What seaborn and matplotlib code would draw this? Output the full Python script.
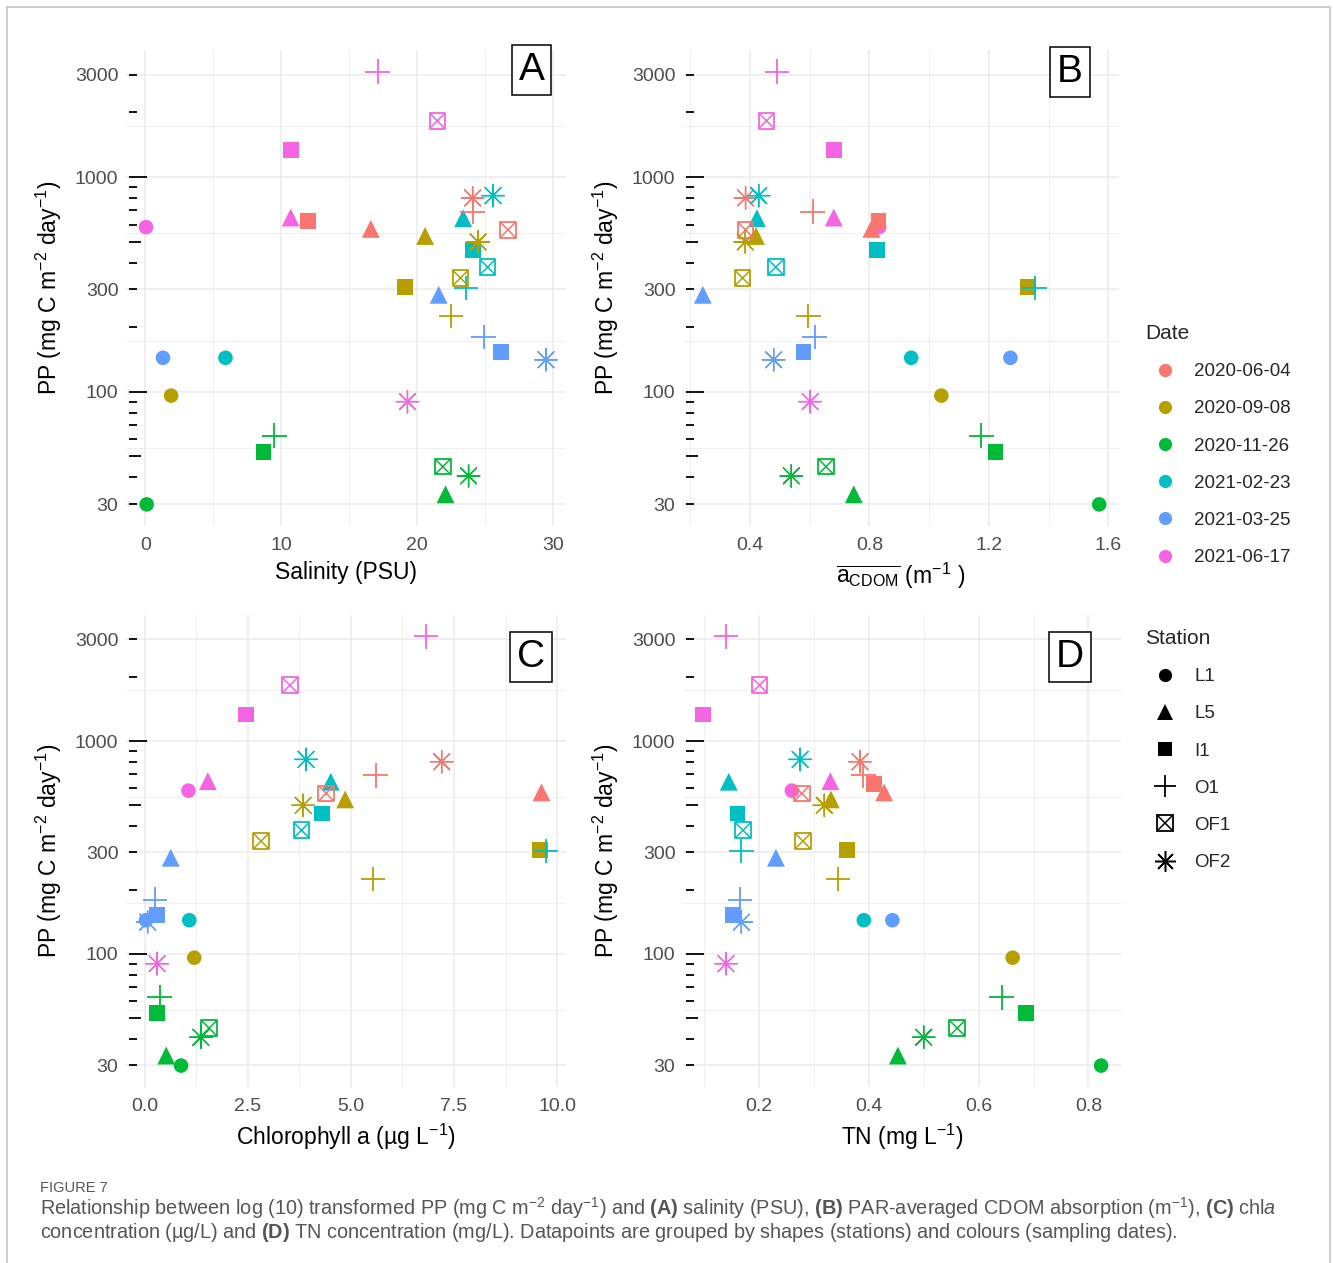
import numpy as np
import pandas as pd
import matplotlib
matplotlib.use("Agg")
import matplotlib.pyplot as plt
import seaborn as sns
from matplotlib.lines import Line2D
from matplotlib.patches import Rectangle
from matplotlib.legend_handler import HandlerTuple

# ---------------- data ----------------
dates = ["2020-06-04", "2020-09-08", "2020-11-26", "2021-02-23", "2021-03-25", "2021-06-17"]
stations = ["L1", "L5", "I1", "O1", "OF1", "OF2"]
palette = ["#F8766D", "#B79F00", "#00BA38", "#00BFC4", "#619CFF", "#F564E3"]

date_col = (["2020-06-04"] * 5 + ["2020-09-08"] * 6 + ["2020-11-26"] * 6 +
            ["2021-02-23"] * 6 + ["2021-03-25"] * 5 + ["2021-06-17"] * 6)
station_col = (["L5", "I1", "O1", "OF1", "OF2"] +
               ["L1", "L5", "I1", "O1", "OF1", "OF2"] +
               ["L1", "L5", "I1", "O1", "OF1", "OF2"] +
               ["L1", "L5", "I1", "O1", "OF1", "OF2"] +
               ["L1", "L5", "I1", "O1", "OF2"] +
               ["L1", "L5", "I1", "O1", "OF1", "OF2"])
pp = [574, 627, 690, 568, 800,
      96, 532, 308, 225, 339, 499,
      29.9, 33.3, 52.6, 62.5, 44.8, 40.6,
      144, 644, 457, 305, 381, 820,
      144, 283, 153, 180, 141,
      585, 648, 1333, 3100, 1830, 90]
salinity = [16.6, 12.0, 24.1, 26.7, 24.1,
            1.9, 20.6, 19.1, 22.5, 23.2, 24.5,
            0.1, 22.1, 8.7, 9.5, 21.9, 23.8,
            5.9, 23.4, 24.1, 23.6, 25.2, 25.6,
            1.3, 21.6, 26.2, 24.9, 29.5,
            0.05, 10.7, 10.7, 17.1, 21.5, 19.3]
acdom = [0.807, 0.831, 0.610, 0.386, 0.386,
         1.041, 0.421, 1.332, 0.596, 0.376, 0.385,
         1.569, 0.748, 1.222, 1.175, 0.655, 0.539,
         0.940, 0.424, 0.827, 1.353, 0.487, 0.430,
         1.272, 0.243, 0.580, 0.617, 0.480,
         0.833, 0.681, 0.681, 0.491, 0.456, 0.602]
chla = [9.62, np.nan, 5.60, 4.40, 7.20,
        1.20, 4.86, 9.59, 5.53, 2.82, 3.84,
        0.88, 0.52, 0.30, 0.36, 1.56, 1.36,
        1.08, 4.51, 4.30, 9.73, 3.80, 3.91,
        0.03, 0.63, 0.30, 0.25, 0.07,
        1.06, 1.53, 2.46, 6.82, 3.52, 0.30]
tn = [0.428, 0.410, 0.390, 0.278, 0.384,
      0.662, 0.331, 0.361, 0.344, 0.280, 0.319,
      0.823, 0.453, 0.686, 0.642, 0.561, 0.500,
      0.391, 0.145, 0.161, 0.168, 0.171, 0.275,
      0.443, 0.231, 0.153, 0.166, 0.168,
      0.260, 0.330, 0.098, 0.140, 0.201, 0.140]

y_breaks = [30, 100, 300, 1000, 3000]
y_labels = ["30", "100", "300", "1000", "3000"]

df = pd.DataFrame({"Date": date_col, "Station": station_col, "PP": pp,
                   "Salinity": salinity, "aCDOM": acdom, "Chla": chla, "TN": tn})

# ---------------- style ----------------
sns.set_theme(style="white")
plt.rcParams["font.family"] = ["Liberation Sans", "DejaVu Sans"]
plt.rcParams["mathtext.fontset"] = "custom"
plt.rcParams["mathtext.rm"] = "Liberation Sans"
plt.rcParams["mathtext.it"] = "Liberation Sans:italic"
plt.rcParams["mathtext.bf"] = "Liberation Sans:bold"
plt.rcParams["mathtext.sf"] = "Liberation Sans"

W, H = 1333, 1263
fig = plt.figure(figsize=(W / 100, H / 100), dpi=100)
fig.patch.set_facecolor("white")


def rect(l, t, r, b):
    return [l / W, 1 - b / H, (r - l) / W, (b - t) / H]


axA = fig.add_axes(rect(126, 50, 566, 526))
axB = fig.add_axes(rect(683, 50, 1119, 526))
axC = fig.add_axes(rect(126, 615, 566, 1087))
axD = fig.add_axes(rect(683, 615, 1121, 1087))

marker_specs = {
    "L1": [dict(marker="o", s=110, hollow=False)],
    "L5": [dict(marker="^", s=165, hollow=False)],
    "I1": [dict(marker="s", s=130, hollow=False)],
    "O1": [dict(marker="+", s=310, linewidth=1.3)],
    "OF1": [dict(marker="s", s=125, linewidth=1.3, hollow=True),
            dict(marker="x", s=125, linewidth=1.1)],
    "OF2": [dict(marker=(8, 2, 0), s=260, linewidth=1.0)],
}

GRID = "#EBEBEB"
TICKC = "#4D4D4D"


def padded(vals, log=False):
    v = np.asarray(vals, dtype=float)
    v = v[~np.isnan(v)]
    if log:
        v = np.log10(v)
    lo, hi = v.min(), v.max()
    pad = 0.05 * (hi - lo)
    lo, hi = lo - pad, hi + pad
    if log:
        return 10 ** lo, 10 ** hi
    return lo, hi


def draw_panel(ax, xcol, xlabel, xticks, xticklabels, letter, letter_xy):
    for st in stations:
        sub = df[df["Station"] == st].dropna(subset=[xcol])
        for spec in marker_specs[st]:
            kw = dict(spec)
            hollow = kw.pop("hollow", None)
            if hollow is False:
                kw["linewidth"] = 0
                kw["edgecolor"] = "none"
            if hollow:
                kw["edgecolor"] = "none"
            sns.scatterplot(data=sub, x=xcol, y="PP", hue="Date", hue_order=dates,
                            palette=palette, legend=False, ax=ax, zorder=3, **kw)
            if hollow:
                coll = ax.collections[-1]
                fc = coll.get_facecolors()
                coll.set_edgecolors(fc)
                coll.set_facecolors("none")
                coll.set_linewidths(spec["linewidth"])

    ax.set_yscale("log")
    ylo, yhi = padded(df["PP"], log=True)
    xlo, xhi = padded(df[xcol])
    ax.set_ylim(ylo, yhi)
    ax.set_xlim(xlo, xhi)
    ax.set_autoscale_on(False)

    # major / minor breaks (ggplot style)
    ax.set_yticks(y_breaks)
    ax.set_yticklabels(y_labels)
    lb = np.log10(y_breaks)
    ax.set_yticks(10 ** ((lb[:-1] + lb[1:]) / 2), minor=True)
    ax.set_xticks(xticks)
    ax.set_xticklabels(xticklabels)
    xt = np.asarray(xticks, dtype=float)
    step = xt[1] - xt[0]
    xm = np.concatenate([[xt[0] - step / 2], (xt[:-1] + xt[1:]) / 2, [xt[-1] + step / 2]])
    xm = xm[(xm > xlo) & (xm < xhi)]
    ax.set_xticks(xm, minor=True)
    ax.yaxis.set_minor_formatter(matplotlib.ticker.NullFormatter())
    ax.xaxis.set_minor_formatter(matplotlib.ticker.NullFormatter())

    ax.grid(True, which="major", color=GRID, linewidth=1.1, zorder=0)
    ax.grid(True, which="minor", color=GRID, linewidth=0.55, zorder=0)
    ax.set_axisbelow(True)
    for sp in ax.spines.values():
        sp.set_visible(False)
    ax.tick_params(axis="both", which="both", length=0, labelsize=14, labelcolor=TICKC)
    ax.tick_params(axis="y", pad=5.5)
    ax.tick_params(axis="x", pad=8)

    # annotation_logticks style marks on the left side of the panel
    tr = ax.get_yaxis_transform()
    width_px = ax.get_position().width * W
    for dec in [10, 100, 1000]:
        for k in range(1, 10):
            v = k * dec
            if ylo <= v <= yhi:
                L = 18 if k == 1 else (12 if k == 5 else 8)
                x0 = 3 / width_px
                ax.plot([x0, x0 + L / width_px], [v, v], transform=tr, color="black",
                        lw=1.3, solid_capstyle="butt", zorder=2, clip_on=False)

    ax.set_xlabel(xlabel, fontsize=16.5, color="black")
    ax.set_ylabel(r"PP (mg C m$^{-2}$ day$^{-1}$)", fontsize=16.5, color="black")
    ax.yaxis.set_label_coords(-0.142, 0.5)
    ax.xaxis.set_label_coords(0.5, -0.074)

    fig.text(letter_xy[0] / W, 1 - letter_xy[1] / H, letter, fontsize=28, ha="center",
             va="center", color="black",
             bbox=dict(boxstyle="square,pad=0.18", fc="white", ec="black", lw=1.1))


draw_panel(axA, "Salinity", "Salinity (PSU)", [0, 10, 20, 30], ["0", "10", "20", "30"],
           "A", (531.5, 70))
draw_panel(axB, "aCDOM", r"$\overline{\mathrm{a}_{\mathrm{CDOM}}}$ (m$^{-1}$ )",
           [0.4, 0.8, 1.2, 1.6], ["0.4", "0.8", "1.2", "1.6"], "B", (1070, 72))
draw_panel(axC, "Chla", r"Chlorophyll a (µg L$^{-1}$)", [0, 2.5, 5, 7.5, 10],
           ["0.0", "2.5", "5.0", "7.5", "10.0"], "C", (531, 657))
draw_panel(axD, "TN", r"TN (mg L$^{-1}$)", [0.2, 0.4, 0.6, 0.8],
           ["0.2", "0.4", "0.6", "0.8"], "D", (1070, 657))

# ---------------- legends ----------------
date_handles = [Line2D([], [], marker="o", ls="", color=c, markersize=9.5, markeredgewidth=0)
                for c in palette]
fig.legend(date_handles, dates, title="Date", loc="upper left",
           bbox_to_anchor=(1145 / W, 1 - 324 / H), frameon=False, alignment="left",
           fontsize=13.5, title_fontsize=15, borderpad=0, borderaxespad=0,
           labelspacing=1.07, handlelength=2.1, handletextpad=0.53)

k = "black"
st_handles = [
    Line2D([], [], marker="o", ls="", color=k, markersize=9.5, markeredgewidth=0),
    Line2D([], [], marker="^", ls="", color=k, markersize=11, markeredgewidth=0),
    Line2D([], [], marker="s", ls="", color=k, markersize=10, markeredgewidth=0),
    Line2D([], [], marker="+", ls="", color=k, markersize=16, markeredgewidth=1.3),
    (Line2D([], [], marker="s", ls="", mfc="none", mec=k, markersize=11, markeredgewidth=1.3),
     Line2D([], [], marker="x", ls="", color=k, markersize=11, markeredgewidth=1.1)),
    Line2D([], [], marker=(8, 2, 0), ls="", color=k, markersize=15, markeredgewidth=1.1),
]
fig.legend(st_handles, stations, title="Station", loc="upper left",
           bbox_to_anchor=(1145 / W, 1 - 629 / H), frameon=False, alignment="left",
           fontsize=13.5, title_fontsize=15, borderpad=0, borderaxespad=0,
           labelspacing=1.07, handlelength=2.1, handletextpad=0.53,
           handler_map={tuple: HandlerTuple(ndivide=1)})

# ---------------- caption & frame ----------------
capc = "#555555"
fig.text(40 / W, 1 - 1188 / H, "FIGURE 7", fontsize=10.5, color=capc, va="center", ha="left")
line1 = (r"Relationship between log (10) transformed PP (mg C m$^{-2}$ day$^{-1}$) and "
         r"$\mathbf{(A)}$ salinity (PSU), $\mathbf{(B)}$ PAR-averaged CDOM absorption "
         r"(m$^{-1}$), $\mathbf{(C)}$ chl$\mathit{a}$")
line2 = (r"concentration (µg/L) and $\mathbf{(D)}$ TN concentration (mg/L). Datapoints are "
         r"grouped by shapes (stations) and colours (sampling dates).")
fig.text(40 / W, 1 - 1208 / H, line1, fontsize=14.3, color=capc, va="center", ha="left")
fig.text(40 / W, 1 - 1232 / H, line2, fontsize=14.3, color=capc, va="center", ha="left")

fig.patches.append(Rectangle((7 / W, -0.01), (1330 - 7) / W, 1 - 7 / H + 0.01,
                             transform=fig.transFigure, fill=False, ec="#C8C8C8", lw=1.3))

fig.savefig("out.png", dpi=100, facecolor="white")
